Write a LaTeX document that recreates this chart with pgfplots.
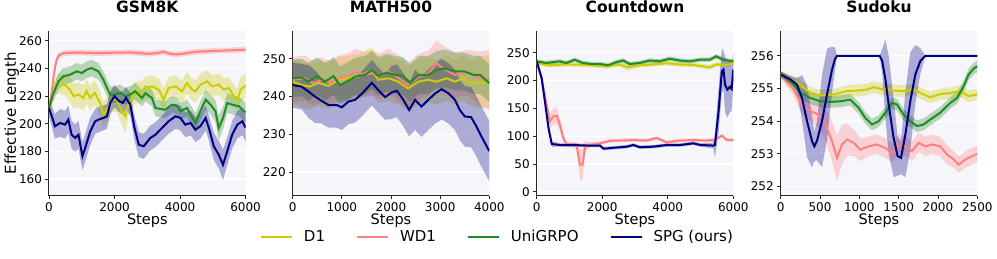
\documentclass[border=0pt]{standalone}
\usepackage{fontspec}
\setmainfont{DejaVu Sans}
\usepackage{pgfplots}
\pgfplotsset{compat=1.18}
\usepackage{pgfplotstable}
\usepgfplotslibrary{fillbetween}

\definecolor{cD}{RGB}{204,204,0}
\definecolor{cW}{RGB}{255,128,128}
\definecolor{cU}{RGB}{34,139,34}
\definecolor{cS}{RGB}{0,0,128}
\definecolor{bgc}{RGB}{245,245,250}

% ---------- GSM8K ----------
\pgfplotstableread{
x y e
0 211 4
180 226 6
290 229 7
490 228 8
640 224.6 9
750 219.8 9
900 221 9
1050 218.6 9
1150 223.4 9
1250 218.6 9
1400 222.2 9
1560 215 9
1660 206.5 9
1770 210 9
1920 217.3 9
2070 217.3 9
2220 209 10
2330 205.3 12
2430 215 9
2630 222.2 8
2840 223.4 8
2940 225.8 8
3140 227 8
3350 224.6 8
3500 217.3 8
3650 225.8 8
3860 227 8
4060 223.4 8
4210 229.4 8
4370 224.6 8
4470 223.4 8
4620 228.2 8
4830 230.6 8
4980 227 8
5180 228.2 8
5340 224.6 8
5490 225.8 8
5640 219.8 8
5750 217.3 8
5850 224.6 9
6000 227.5 9
}\gD
\pgfplotstableread{
x y e
0 210 2
80 222 3
150 236 3
220 245 3
300 249.5 2
450 251 2
700 251.3 2
1000 251.3 2
1500 251 2
2000 251.3 2
2500 251.5 2
3000 250.5 2
3300 251 2
3500 252 2
3700 250.5 2
3900 250 2
4200 251 2
4500 252 2
5000 252.5 2
5500 253 2
6000 253.5 2
}\gW
\pgfplotstableread{
x y e
0 211.3 4
120 221 5
290 230.6 6
440 234.2 6
640 235.4 6
850 237.8 6
1000 236.6 6
1150 239 6
1300 240.2 6
1510 237.8 6
1660 231.8 6
1770 225.8 6
1870 221 6
2020 221 6
2170 222.2 6
2330 219.8 6
2480 221 6
2630 223.4 6
2840 218.6 6
2940 222 6
3140 218.6 6
3250 211.3 6
3550 210 6
3750 213.7 6
3900 213 6
4010 209 6
4210 211.3 6
4320 206.5 7
4470 200.5 7
4620 209 7
4780 217.3 7
4930 213.7 7
5080 209 8
5180 196.9 9
5310 204 8
5440 215 7
5590 213.7 7
5800 212.5 7
6000 208 7
}\gU
\pgfplotstableread{
x y e
0 211.3 6
120 202.9 8
180 198.1 9
340 200.5 10
490 199.3 10
590 202.9 10
690 192 10
800 189.7 10
900 192 10
1020 176.4 10
1120 183.6 10
1260 194.5 10
1410 201.7 9
1510 202.9 9
1660 204.1 9
1770 205.3 9
1870 215 8
2000 219.8 8
2140 216.2 8
2250 215 8
2350 218.6 8
2480 213.7 8
2610 196.9 9
2740 184.8 9
2890 183.6 9
3090 189.6 9
3250 192 9
3450 196.9 9
3650 201.7 9
3860 205.3 9
4010 204.1 9
4160 199.3 9
4320 200.5 9
4470 195.7 9
4620 198.1 9
4780 204.1 9
4880 196.9 9
5030 183.6 10
5180 177.6 10
5310 170.3 11
5440 180 10
5590 192 10
5750 199.3 10
5900 201.7 10
6000 197 10
}\gS

% ---------- MATH500 ----------
\pgfplotstableread{
x y e
0 243.9 6
190 243 6
350 242.6 6
520 243.6 6
730 242.8 6
930 244.4 6
1130 244.8 6
1340 245.2 6
1610 247 6
1740 244.4 6
1950 244.8 6
2150 243.9 6
2350 242.1 6
2560 243.9 6
2760 244.4 6
2930 243.9 6
3130 244.8 6
3300 243.9 6
3470 244.8 6
3640 243.5 6
3810 243.7 7
4000 243.9 7
}\mD
\pgfplotstableread{
x y e
0 244.4 6
250 244.8 6
420 243.5 6
590 244.4 6
760 243.5 6
930 244.8 6
1130 245.4 6
1270 246.6 6
1470 245.7 6
1610 246.1 6
1780 245.4 6
1950 246.6 6
2120 245.2 6
2350 243 6
2560 245.2 6
2760 246.1 6
2930 248.8 6
3060 247.4 6
3300 245.7 6
3570 246.3 6
3780 244.8 7
4000 244.4 8
}\mW
\pgfplotstableread{
x y e
0 244.8 5
180 245 5
320 243.9 5
490 245.4 5
660 243.9 5
830 245.4 5
960 243 5
1100 243.9 5
1270 245.2 5
1470 245.7 5
1610 247 5
1740 245.4 5
1910 246.3 5
2080 245.7 5
2250 245.4 5
2390 243.6 5
2560 245.7 5
2760 245.7 5
2930 247 5
3100 247.4 5
3300 246.6 5
3500 246.6 5
3680 245.7 5
3810 245.7 5
4000 243.5 5
}\mU
\pgfplotstableread{
x y e
0 243 6
180 242.6 6
320 241.3 7
450 240 7
590 238.8 6
730 237.7 6
900 237.7 6
1000 237.1 6
1130 238.6 6
1270 239.1 6
1400 240.6 6
1610 243.6 6
1740 241.7 6
1880 239.8 6
2010 241 7
2120 241.5 7
2250 239.1 7
2370 236.4 7
2490 239.1 8
2620 237.3 8
2760 239.1 8
2900 240.8 8
3030 241.9 8
3170 240.8 8
3300 239.1 8
3400 236.4 8
3500 234.7 8
3630 234.5 8
3740 232 8
3840 229.4 8
4000 225.5 8
}\mS

% ---------- Countdown ----------
\pgfplotstableread{
x y e
0 231.5 4
400 227.3 4
900 229 4
1310 228.5 4
1720 227.3 4
2130 225.5 4
2530 229 4
2790 223.7 6
3140 227.3 4
3550 229 4
3960 231 4
4360 229 4
4780 228 4
5280 223.7 5
5500 229 4
5800 228 4
6000 232 4
}\cD
\pgfplotstableread{
x y e
0 234.5 3
150 204.5 5
300 156.5 10
400 126.6 12
510 135.6 15
610 136.8 15
710 120.5 12
810 96.6 8
920 84.5 5
1120 85 5
1220 82.3 6
1320 48.6 28
1400 48.6 28
1480 82 10
1630 84.5 4
1930 87 3
2240 91.5 3
2540 92 3
2950 92.9 3
3360 92 3
3660 96.6 3
3970 89 3
4380 92 3
4780 92.9 3
5190 92 3
5440 93 3
5650 101 3
5800 93 3
6000 92.9 3
}\cW
\pgfplotstableread{
x y e
0 234.5 4
290 231.5 4
700 234.5 4
900 231.5 4
1160 237.4 4
1410 231.5 4
1670 229.7 4
1920 229.7 4
2180 227.3 4
2430 233 4
2640 236 4
2840 229.7 4
3140 231.5 4
3450 236 4
3750 234.5 4
4060 239.2 4
4360 236 4
4670 234.5 4
4980 237.4 4
5280 237.4 4
5480 243.5 4
5690 237.4 4
6000 234.5 4
}\cU
\pgfplotstableread{
x y e
0 234.5 3
150 204.5 4
250 162.5 5
360 114.6 8
460 85.8 5
710 84 3
1120 84 3
1530 83 3
1930 83 3
2040 77.4 3
2340 79 3
2750 81 3
2950 84 3
3150 80 3
3560 81 3
3970 84 3
4380 84 3
4780 87 3
5000 84 3
5390 83 5
5440 84 22
5550 144.6 40
5650 216.6 40
5700 219.6 35
5750 192.4 50
5820 183.5 50
5900 188.8 45
5950 185 40
6000 219.6 30
}\cS

% ---------- Sudoku ----------
\pgfplotstableread{
x y e
0 255.43 0.1
207 255.17 0.18
377 254.87 0.18
504 254.79 0.18
674 254.82 0.18
843 254.92 0.18
970 254.94 0.18
1097 254.97 0.18
1182 255.04 0.18
1309 254.97 0.18
1436 254.94 0.18
1563 254.92 0.18
1690 254.97 0.18
1817 254.82 0.18
1902 254.73 0.18
2029 254.83 0.18
2157 254.86 0.18
2284 254.92 0.18
2390 254.77 0.18
2500 254.82 0.18
}\sD
\pgfplotstableread{
x y e
0 255.43 0.1
165 254.97 0.2
271 254.51 0.3
377 254.31 0.3
483 254.2 0.4
568 253.9 0.5
653 253.39 0.6
716 252.88 0.7
780 253.29 0.6
843 253.44 0.5
928 253.34 0.4
1013 253.13 0.35
1119 253.23 0.3
1224 253.29 0.3
1331 253.18 0.3
1415 253.03 0.3
1500 253.29 0.3
1585 253.23 0.3
1669 253.08 0.3
1754 253.34 0.3
1839 253.23 0.3
1923 253.29 0.3
2029 253.23 0.3
2115 252.98 0.3
2199 252.83 0.25
2263 252.67 0.25
2348 252.83 0.25
2432 252.93 0.25
2500 253 0.25
}\sW
\pgfplotstableread{
x y e
0 255.43 0.1
165 255.12 0.15
250 254.87 0.18
377 254.71 0.18
504 254.61 0.18
631 254.59 0.18
758 254.61 0.18
886 254.66 0.18
991 254.41 0.18
1076 254.1 0.18
1161 253.9 0.18
1246 254 0.18
1331 254.26 0.18
1415 254.56 0.18
1479 254.51 0.18
1563 254.2 0.18
1648 254 0.18
1733 253.85 0.18
1817 253.9 0.18
1902 254.05 0.18
2029 254.26 0.18
2157 254.56 0.18
2242 254.71 0.18
2326 255.07 0.18
2390 255.43 0.18
2453 255.61 0.18
2500 255.68 0.18
}\sU
\pgfplotstableread{
x y e
0 255.43 0.1
123 255.28 0.1
207 255.12 0.2
271 254.71 0.7
335 254.0 1.1
398 253.39 0.8
428 253.23 0.45
462 253.4 0.6
525 254.0 1.4
589 254.82 1.4
653 255.58 0.7
690 255.9 0.35
716 256 0
1258 256 0
1290 255.85 0.35
1330 255.3 1.2
1373 254.51 1.5
1436 253.49 1.2
1487 252.93 0.6
1530 252.88 0.5
1585 253.59 1.3
1648 254.61 1.5
1712 255.43 0.9
1775 255.84 0.4
1839 256 0
2500 256 0
}\sS

\newcommand{\series}[3]{%
  \addplot[draw=none, forget plot, name path=#3u] table[x=x, y expr=\thisrow{y}+\thisrow{e}] {#1};
  \addplot[draw=none, forget plot, name path=#3l] table[x=x, y expr=\thisrow{y}-\thisrow{e}] {#1};
  \addplot[fill=#2, fill opacity=0.3, draw=none, forget plot] fill between[of=#3u and #3l];
  \addplot[#2, line width=2pt] table[x=x, y=y] {#1};
}

\pgfplotsset{
  myax/.style={
    width=196.6pt, height=165pt, scale only axis,
    axis background/.style={fill=bgc},
    axis x line*=bottom, axis y line*=left,
    axis line style={line width=1pt, black!85},
    ymajorgrids, grid style={white, line width=1.2pt},
    tick align=outside, major tick length=3.5pt,
    tick style={line width=0.8pt, black!85},
    tick label style={font=\fontsize{12}{14}\selectfont},
    /pgf/number format/assume math mode=true,
    /pgf/number format/1000 sep={},
    scaled ticks=false,
    title style={font=\bfseries\fontsize{15.5}{18}\selectfont, at={(axis description cs:0.5,1)}, anchor=base, yshift=12.5pt},
    every axis x label/.style={at={(axis description cs:0.5,0)}, anchor=base, yshift=-29pt, font=\fontsize{14.5}{17}\selectfont},
    xlabel=Steps,
  }
}

\begin{document}
\begin{tikzpicture}

\begin{axis}[myax, at={(0pt,0pt)}, anchor=south west,
  title=GSM8K,
  xmin=0, xmax=6000, ymin=147.9, ymax=267.2,
  xtick={0,2000,4000,6000}, ytick={160,180,200,220,240,260},
  ylabel={Effective Length},
  every axis y label/.style={at={(axis description cs:-0.168,0.5)}, rotate=90, anchor=base, font=\fontsize{15}{18}\selectfont},
  legend columns=4,
  legend style={draw=none, fill=none, at={(axis description cs:2.281,-0.25)}, anchor=center,
    font=\fontsize{15}{18}\selectfont,
    /tikz/every odd column/.append style={column sep=9pt},
    /tikz/every even column/.append style={column sep=29pt}},
  legend image code/.code={\draw[#1] (0pt,0pt) -- (31pt,0pt);},
]
\series{\gD}{cD}{a}
\series{\gW}{cW}{b}
\series{\gU}{cU}{c}
\series{\gS}{cS}{d}
\legend{D1, WD1, UniGRPO, SPG (ours)}
\end{axis}

\begin{axis}[myax, at={(243.7pt,0pt)}, anchor=south west,
  title=MATH500,
  xmin=0, xmax=4000, ymin=213.7, ymax=257.4,
  xtick={0,1000,2000,3000,4000}, ytick={220,230,240,250},
]
\series{\mD}{cD}{a}
\series{\mW}{cW}{b}
\series{\mU}{cU}{c}
\series{\mS}{cS}{d}
\end{axis}

\begin{axis}[myax, at={(487.7pt,0pt)}, anchor=south west,
  title=Countdown,
  xmin=0, xmax=6000, ymin=-7.2, ymax=289.6,
  xtick={0,2000,4000,6000}, ytick={0,50,100,150,200,250},
]
\series{\cD}{cD}{a}
\series{\cW}{cW}{b}
\series{\cU}{cU}{c}
\series{\cS}{cS}{d}
\end{axis}

\begin{axis}[myax, at={(731.7pt,0pt)}, anchor=south west,
  title=Sudoku,
  xmin=0, xmax=2500, ymin=251.72, ymax=256.77,
  xtick={0,500,1000,1500,2000,2500}, ytick={252,253,254,255,256},
]
\series{\sD}{cD}{a}
\series{\sW}{cW}{b}
\series{\sU}{cU}{c}
\series{\sS}{cS}{d}
\end{axis}

\pgfresetboundingbox
\path[use as bounding box] (-49pt,-62.3pt) rectangle (948pt,195.7pt);
\end{tikzpicture}
\end{document}
